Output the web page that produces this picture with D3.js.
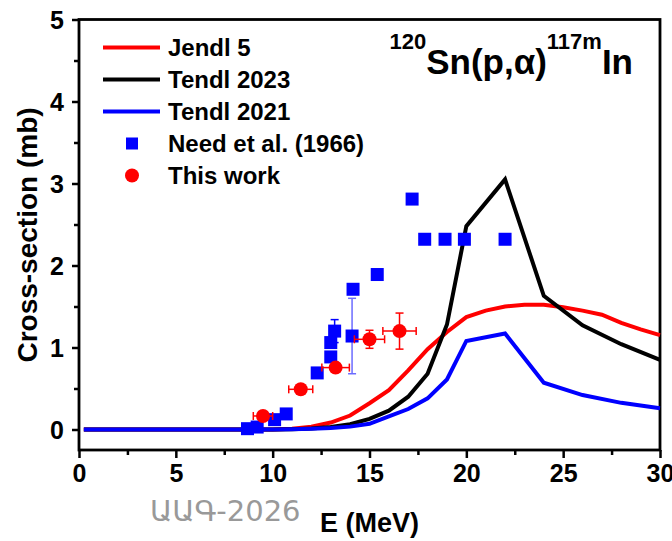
<!DOCTYPE html>
<meta charset="utf-8">
<style>
body { margin: 0; background: #fff; }
text { font-family: "Liberation Sans", Arial, sans-serif; font-weight: bold; }
</style>
<body>
<svg width="672" height="541"></svg>
</body>
<script src="https://d3js.org/d3.v7.min.js"></script>
<script>
// evaluated curves
const jendlE  = [0.25, 2, 4, 6, 8, 10, 11, 12, 13, 14, 15, 16, 17, 18, 19, 20, 21, 22, 23, 24, 25, 26, 27, 28, 29, 30];
const jendlXS = [0, 0, 0, 0, 0, 0.001, 0.01, 0.035, 0.085, 0.17, 0.32, 0.48, 0.72, 0.98, 1.19, 1.37, 1.45, 1.50, 1.52, 1.52, 1.49, 1.45, 1.40, 1.30, 1.22, 1.15];
const tendlE    = [0.25, 2, 4, 6, 8, 10, 11, 12, 13, 14, 15, 16, 17, 18, 19, 20, 22, 24, 26, 28, 30];
const tendl23XS = [0, 0, 0, 0, 0, 0.001, 0.004, 0.012, 0.03, 0.065, 0.13, 0.23, 0.40, 0.68, 1.28, 2.48, 3.05, 1.63, 1.27, 1.04, 0.85];
const tendl21XS = [0, 0, 0, 0, 0, 0.001, 0.003, 0.008, 0.018, 0.035, 0.07, 0.16, 0.25, 0.38, 0.61, 1.08, 1.17, 0.57, 0.42, 0.325, 0.26];

// Need et al. (1966)
const needE   = [8.7, 9.2, 10.1, 10.7, 12.3, 13.0, 13.0, 13.2, 14.1, 14.15, 15.4, 17.2, 17.85, 18.9, 19.9, 22.0];
const needXS  = [0.01, 0.03, 0.12, 0.19, 0.69, 0.885, 1.06, 1.2, 1.14, 1.71, 1.89, 2.81, 2.32, 2.32, 2.32, 2.32];
const needErr = [0, 0, 0, 0, 0, 0, 0, 0.14, 0.46, 0, 0, 0, 0, 0, 0, 0];

// this work
const workE     = [9.5, 11.45, 13.25, 15.0, 16.55];
const workXS    = [0.165, 0.49, 0.755, 1.10, 1.20];
const workEerr  = [0.5, 0.62, 0.71, 0.78, 0.86];
const workXSerr = [0.02, 0.03, 0.04, 0.11, 0.22];

const legendNames = ["Jendl 5", "Tendl 2023", "Tendl 2021", "Need et al. (1966)", "This work"];
const xTicks = [0, 5, 10, 15, 20, 25, 30];
const yTicks = [0, 1, 2, 3, 4, 5];

const svg = d3.select("svg");
const x = d3.scaleLinear().domain([0, 30]).range([79, 660]);
const y = d3.scaleLinear().domain([-0.25, 5]).range([450, 19.5]);

// axes
const xAxis = svg.append("g").attr("transform", "translate(0,450)")
  .call(d3.axisBottom(x).tickValues(xTicks).tickSize(8).tickPadding(6).tickFormat(d3.format("d")));
svg.append("g").attr("transform", "translate(0,450)")
  .call(d3.axisBottom(x).tickValues(d3.range(2.5, 30, 5)).tickSize(5).tickFormat(""));
const yAxis = svg.append("g").attr("transform", "translate(79,0)")
  .call(d3.axisLeft(y).tickValues(yTicks).tickSize(7).tickPadding(8).tickFormat(d3.format("d")));
svg.append("g").attr("transform", "translate(79,0)")
  .call(d3.axisLeft(y).tickValues(d3.range(0.5, 5, 1)).tickSize(5).tickFormat(""));
svg.selectAll(".domain").remove();
svg.selectAll(".tick line").attr("stroke", "#000").attr("stroke-width", 2.5);
svg.selectAll(".tick text").style("font-size", "25px").attr("fill", "#000");
xAxis.selectAll(".tick text").attr("dy", "0.72em");
yAxis.selectAll(".tick text").attr("dy", "0.36em");

// frame
svg.append("rect").attr("x", x(0)).attr("y", y(5))
  .attr("width", x(30) - x(0)).attr("height", y(-0.25) - y(5))
  .attr("fill", "none").attr("stroke", "#000").attr("stroke-width", 2.8);

// curves
const line = d3.line().x(d => x(d[0])).y(d => y(d[1]));
const curves = [
  {e: jendlE, v: jendlXS, color: "#ff0000"},
  {e: tendlE, v: tendl23XS, color: "#000000"},
  {e: tendlE, v: tendl21XS, color: "#0000ff"}
];
curves.forEach(c => {
  svg.append("path").datum(d3.zip(c.e, c.v))
    .attr("d", line).attr("fill", "none")
    .attr("stroke", c.color).attr("stroke-width", 4).attr("stroke-linejoin", "miter");
});

// Need et al. error bars and squares
const need = d3.zip(needE, needXS, needErr);
const nErr = svg.append("g").selectAll("g").data(need.filter(d => d[2] > 0)).enter().append("g")
  .attr("stroke", (d, i) => i === 1 ? "#6b6bff" : "#0000ff").attr("stroke-width", 1.5);
nErr.append("line").attr("x1", d => x(d[0])).attr("x2", d => x(d[0]))
  .attr("y1", d => y(d[1] - d[2])).attr("y2", d => y(d[1] + d[2]));
[-1, 1].forEach(s => nErr.append("line")
  .attr("x1", d => x(d[0]) - 4).attr("x2", d => x(d[0]) + 4)
  .attr("y1", d => y(d[1] + s * d[2])).attr("y2", d => y(d[1] + s * d[2])));
svg.append("g").selectAll("rect").data(need).enter().append("rect")
  .attr("x", d => x(d[0]) - 6.5).attr("y", d => y(d[1]) - 6.5)
  .attr("width", 13).attr("height", 13).attr("fill", "#0000ff");

// this work
const work = d3.zip(workE, workXS, workEerr, workXSerr);
const wErr = svg.append("g").selectAll("g").data(work).enter().append("g")
  .attr("stroke", "#ff0000").attr("stroke-width", 1.5);
wErr.append("line").attr("x1", d => x(d[0] - d[2])).attr("x2", d => x(d[0] + d[2]))
  .attr("y1", d => y(d[1])).attr("y2", d => y(d[1]));
wErr.append("line").attr("x1", d => x(d[0])).attr("x2", d => x(d[0]))
  .attr("y1", d => y(d[1] - d[3])).attr("y2", d => y(d[1] + d[3]));
[-1, 1].forEach(s => {
  wErr.append("line").attr("x1", d => x(d[0] + s * d[2])).attr("x2", d => x(d[0] + s * d[2]))
    .attr("y1", d => y(d[1]) - 4).attr("y2", d => y(d[1]) + 4);
  wErr.append("line").attr("x1", d => x(d[0]) - 4).attr("x2", d => x(d[0]) + 4)
    .attr("y1", d => y(d[1] + s * d[3])).attr("y2", d => y(d[1] + s * d[3]));
});
svg.append("g").selectAll("circle").data(work).enter().append("circle")
  .attr("cx", d => x(d[0])).attr("cy", d => y(d[1])).attr("r", 7).attr("fill", "#ff0000");

// legend
const lg = svg.append("g");
legendNames.forEach((name, i) => {
  const ly = 47.5 + i * 32;
  if (i < 3) {
    lg.append("line").attr("x1", 103).attr("x2", 160).attr("y1", ly).attr("y2", ly)
      .attr("stroke", curves[i].color).attr("stroke-width", 4);
  } else if (i === 3) {
    lg.append("rect").attr("x", 126).attr("y", ly - 6).attr("width", 12).attr("height", 12).attr("fill", "#0000ff");
  } else {
    lg.append("circle").attr("cx", 132).attr("cy", ly).attr("r", 7).attr("fill", "#ff0000");
  }
  lg.append("text").attr("x", 168).attr("y", ly + 8.5).style("font-size", "24px").text(name);
});

// reaction label
const t = svg.append("text").attr("x", 633).attr("y", 74).attr("text-anchor", "end").style("font-size", "35px");
t.append("tspan").attr("dy", -25).style("font-size", "22px").text("120");
t.append("tspan").attr("dy", 25).text("Sn(p,α)");
t.append("tspan").attr("dy", -25).style("font-size", "22px").text("117m");
t.append("tspan").attr("dy", 25).text("In");

// axis titles
svg.append("text").attr("x", x(15)).attr("y", 532).attr("text-anchor", "middle")
  .style("font-size", "27px").text("E (MeV)");
svg.append("text").attr("transform", "translate(37,235) rotate(-90)").attr("text-anchor", "middle")
  .style("font-size", "28px").text("Cross-section (mb)");

// watermark
svg.append("text").attr("x", 150).attr("y", 521)
  .style("font-family", "'DejaVu Sans', sans-serif").style("font-weight", "normal")
  .style("font-size", "29px").attr("fill", "#999").text("ԱԱԳ-2026");
</script>
